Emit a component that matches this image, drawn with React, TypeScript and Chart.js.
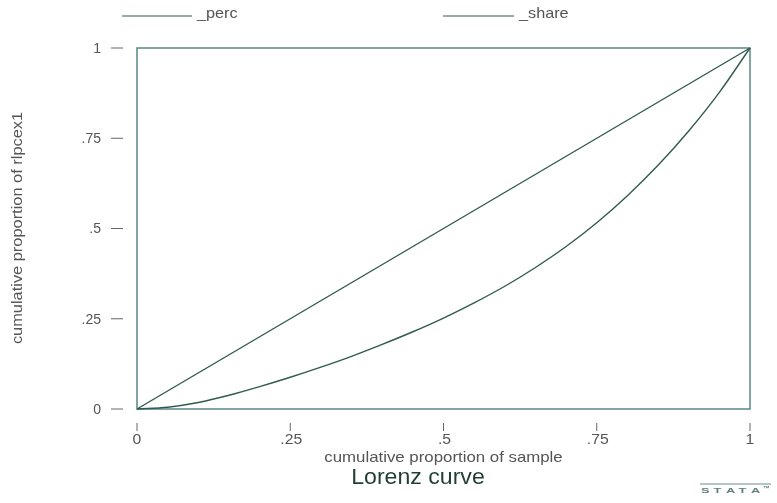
import React, { useEffect, useRef } from "react";
import { Chart, registerables } from "chart.js";

Chart.register(...registerables);

const shareX = [0, 0.05, 0.1, 0.15, 0.2, 0.25, 0.3, 0.35, 0.4, 0.45, 0.5, 0.55, 0.6, 0.65, 0.7, 0.75, 0.8, 0.85, 0.9, 0.95, 1];
const shareY = [0, 0.005, 0.018, 0.038, 0.062, 0.088, 0.116, 0.146, 0.179, 0.214, 0.252, 0.294, 0.34, 0.392, 0.45, 0.516, 0.591, 0.675, 0.77, 0.877, 1];
const percX = [0, 1];
const percY = [0, 1];
const xTicks = [0, 0.25, 0.5, 0.75, 1];
const xTickLabels = ["0", ".25", ".5", ".75", "1"];
const yTicks = [0, 0.25, 0.5, 0.75, 1];
const yTickLabels = ["0", ".25", ".5", ".75", "1"];
const seriesNames = ["_perc", "_share"];
const xTitle = "cumulative proportion of sample";
const yTitle = "cumulative proportion of rlpcex1";
const chartTitle = "Lorenz curve";

const LINE = "#2f5a50";
const FRAME = "#5b8784";
const TEXT = "#555";
const FONT = "'Liberation Sans', Arial, sans-serif";

function txt(ctx: CanvasRenderingContext2D, s: string, x: number, y: number, size: number, align: CanvasTextAlign, color: string, sx = 1, weight = "normal") {
  ctx.save();
  ctx.translate(x, y);
  ctx.scale(sx, 1);
  ctx.font = `${weight} ${size}px ${FONT}`;
  ctx.fillStyle = color;
  ctx.textAlign = align;
  ctx.textBaseline = "middle";
  ctx.fillText(s, 0, 0);
  ctx.restore();
}

const decor = {
  id: "decor",
  beforeDatasetsDraw(chart: any) {
    const { ctx, chartArea: a } = chart;
    ctx.save();
    ctx.strokeStyle = FRAME;
    ctx.lineWidth = 1.5;
    ctx.strokeRect(a.left, a.top, a.right - a.left, a.bottom - a.top);
    ctx.restore();
  },
  afterDraw(chart: any) {
    const { ctx, chartArea: a } = chart;
    const xs = chart.scales.x;
    const ys = chart.scales.y;
    ctx.save();
    ctx.strokeStyle = "#666";
    ctx.lineWidth = 1;
    yTicks.forEach((v, i) => {
      const py = ys.getPixelForValue(v);
      ctx.beginPath();
      ctx.moveTo(111, py);
      ctx.lineTo(123, py);
      ctx.stroke();
      txt(ctx, yTickLabels[i], 101, py + 1, 14, "right", TEXT);
    });
    xTicks.forEach((v, i) => {
      const px = xs.getPixelForValue(v);
      ctx.beginPath();
      ctx.moveTo(px, a.bottom + 14);
      ctx.lineTo(px, a.bottom + 22);
      ctx.stroke();
      txt(ctx, xTickLabels[i], px + (i === 0 || i === 4 ? 0 : 1), a.bottom + 31, 15, "center", TEXT, 1.05);
    });
    txt(ctx, xTitle, (a.left + a.right) / 2, 458, 14.5, "center", TEXT, 1.16);
    ctx.save();
    ctx.translate(18, 228);
    ctx.rotate(-Math.PI / 2);
    txt(ctx, yTitle, 0, 0, 14.5, "center", TEXT, 1.13);
    ctx.restore();
    txt(ctx, chartTitle, 418, 478, 22, "center", "#1f3e36", 1.05);
    ctx.strokeStyle = LINE;
    ctx.lineWidth = 1;
    const legendItems = [
      { x1: 122, x2: 192, tx: 197 },
      { x1: 443, x2: 514, tx: 519 },
    ];
    legendItems.forEach((l, i) => {
      ctx.beginPath();
      ctx.moveTo(l.x1, 16);
      ctx.lineTo(l.x2, 16);
      ctx.stroke();
      txt(ctx, seriesNames[i], l.tx, 14, 14.5, "left", TEXT, 1.12);
    });
    ctx.strokeStyle = "#6d8f8c";
    ctx.lineWidth = 1.2;
    ctx.beginPath();
    ctx.moveTo(700, 484);
    ctx.lineTo(771, 484);
    ctx.stroke();
    const letters = ["S", "T", "A", "T", "A"];
    letters.forEach((c, i) => txt(ctx, c, 701 + i * 12.5, 491, 8, "left", "#5e7f7c", 1.6, "bold"));
    txt(ctx, "™", 763, 489, 7, "left", "#5e7f7c", 1, "bold");
    ctx.restore();
  },
};

export default function App() {
  const ref = useRef<HTMLCanvasElement>(null);
  useEffect(() => {
    document.body.style.margin = "0";
    const chart = new Chart(ref.current!, {
      type: "line",
      data: {
        datasets: [
          {
            label: seriesNames[0],
            data: percX.map((x, i) => ({ x, y: percY[i] })),
            borderColor: LINE,
            borderWidth: 1.4,
            pointRadius: 0,
            fill: false,
            clip: false as any,
          },
          {
            label: seriesNames[1],
            data: shareX.map((x, i) => ({ x, y: shareY[i] })),
            borderColor: LINE,
            borderWidth: 1.4,
            pointRadius: 0,
            cubicInterpolationMode: "monotone",
            fill: false,
            clip: false as any,
          },
        ],
      },
      options: {
        responsive: false,
        animation: false,
        layout: { padding: { left: 137, right: 27, top: 48, bottom: 94 } },
        scales: {
          x: { type: "linear", min: 0, max: 1, display: false },
          y: { type: "linear", min: 0, max: 1, display: false },
        },
        plugins: { legend: { display: false }, tooltip: { enabled: false } },
      },
      plugins: [decor],
    });
    return () => chart.destroy();
  }, []);
  return <canvas ref={ref} width={777} height={503} style={{ display: "block" }} />;
}
